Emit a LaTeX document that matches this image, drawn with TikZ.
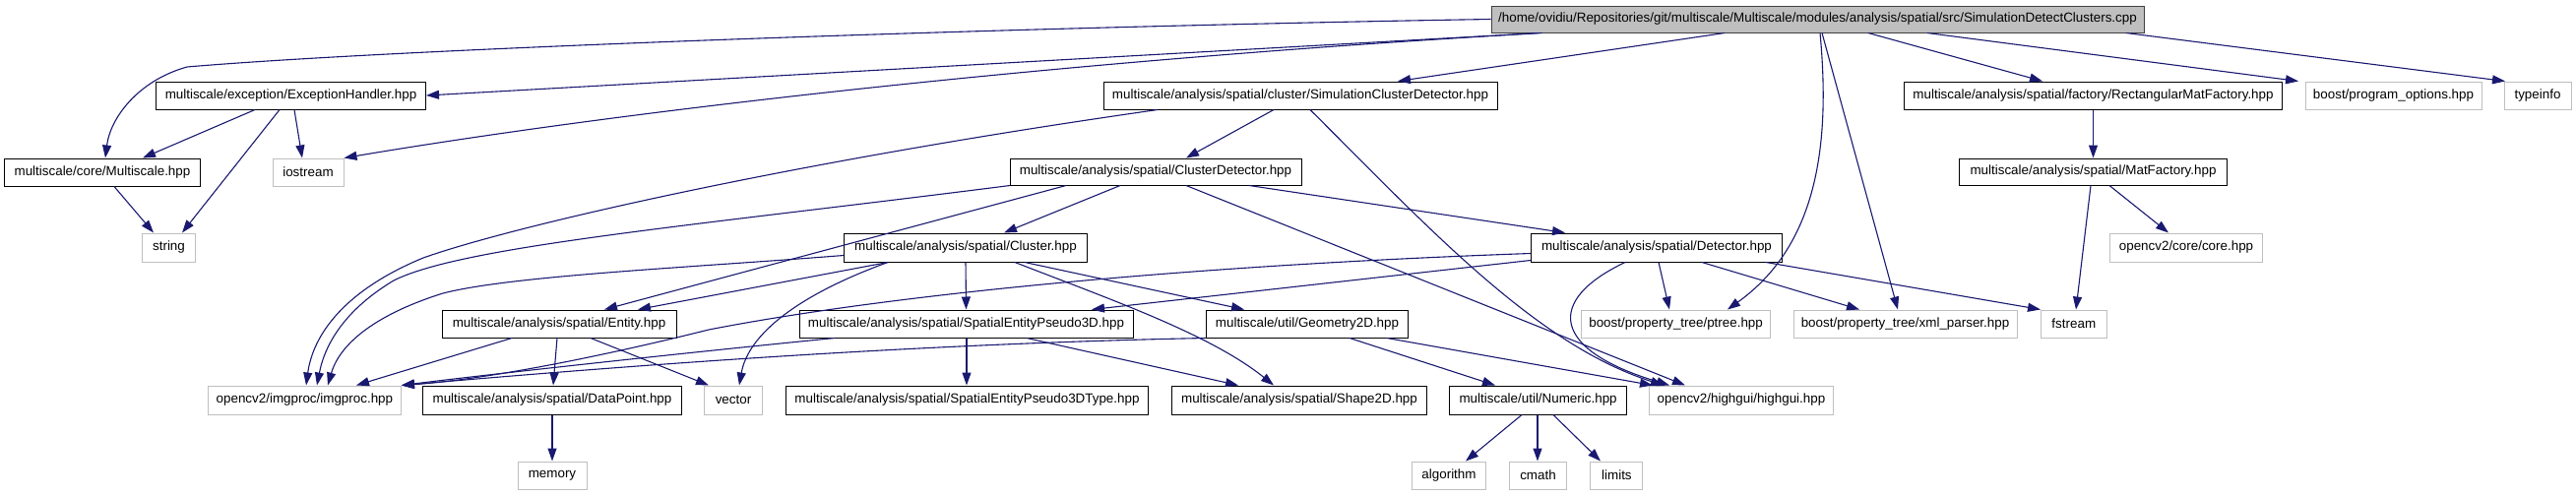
\documentclass[tikz,border=0pt]{standalone}
\usepackage{fontspec}
\setmainfont{Liberation Sans}
\usetikzlibrary{arrows.meta,calc}
\definecolor{edgec}{HTML}{191970}
\definecolor{extc}{HTML}{BFBFBF}
\definecolor{rootfill}{HTML}{BFBFBF}
\definecolor{rootdraw}{HTML}{404040}
\tikzset{
  box/.style={rectangle, inner sep=0pt, line width=1pt, fill=white,
    font=\fontsize{13.4}{15}\selectfont, text=black},
  doc/.style={box, draw=black},
  ext/.style={box, draw=extc},
  rootbox/.style={box, draw=rootdraw, fill=rootfill},
  e/.style={draw=edgec, line width=1.1pt, -{Triangle[length=13pt,width=9pt]}}
}
\begin{document}
\begin{tikzpicture}[x=1pt,y=-1pt]
\useasboundingbox (0,0) rectangle (2617,504);
% nodes
\node[rootbox, minimum width=663pt, minimum height=27pt] (root) at (1846.5,19.5) {/home/ovidiu/Repositories/git/multiscale/Multiscale/modules/analysis/spatial/src/SimulationDetectClusters.cpp};
\node[doc, minimum width=274pt, minimum height=28pt] (EH) at (295.5,97) {multiscale/exception/ExceptionHandler.hpp};
\node[doc, minimum width=199pt, minimum height=28pt] (MS) at (104,175) {multiscale/core/Multiscale.hpp};
\node[ext, minimum width=72pt, minimum height=28pt] (ios) at (313,175) {iostream};
\node[ext, minimum width=54pt, minimum height=29pt] (str) at (171.5,251.5) {string};
\node[doc, minimum width=400pt, minimum height=28pt] (SCD) at (1321,97) {multiscale/analysis/spatial/cluster/SimulationClusterDetector.hpp};
\node[doc, minimum width=296pt, minimum height=27pt] (CD) at (1174,174.5) {multiscale/analysis/spatial/ClusterDetector.hpp};
\node[doc, minimum width=384pt, minimum height=28pt] (RMF) at (2126.5,97) {multiscale/analysis/spatial/factory/RectangularMatFactory.hpp};
\node[ext, minimum width=179pt, minimum height=28pt] (po) at (2431.5,97) {boost/program\_options.hpp};
\node[ext, minimum width=68pt, minimum height=28pt] (ti) at (2578,97) {typeinfo};
\node[doc, minimum width=272pt, minimum height=27pt] (MF) at (2126.5,174.5) {multiscale/analysis/spatial/MatFactory.hpp};
\node[ext, minimum width=155pt, minimum height=29pt] (core) at (2221,251.5) {opencv2/core/core.hpp};
\node[doc, minimum width=247pt, minimum height=29pt] (Cl) at (981,251.5) {multiscale/analysis/spatial/Cluster.hpp};
\node[doc, minimum width=255pt, minimum height=29pt] (Det) at (1683,251.5) {multiscale/analysis/spatial/Detector.hpp};
\node[doc, minimum width=238pt, minimum height=28pt] (Ent) at (568,329) {multiscale/analysis/spatial/Entity.hpp};
\node[doc, minimum width=339pt, minimum height=28pt] (SEP) at (981.5,329) {multiscale/analysis/spatial/SpatialEntityPseudo3D.hpp};
\node[doc, minimum width=205pt, minimum height=28pt] (Geo) at (1328,329) {multiscale/util/Geometry2D.hpp};
\node[ext, minimum width=192pt, minimum height=28pt] (ptree) at (1702.6,329) {boost/property\_tree/ptree.hpp};
\node[ext, minimum width=227pt, minimum height=28pt] (xml) at (1935.5,329) {boost/property\_tree/xml\_parser.hpp};
\node[ext, minimum width=67pt, minimum height=28pt] (fs) at (2106.8,329) {fstream};
\node[ext, minimum width=196pt, minimum height=29pt] (img) at (309.4,406.5) {opencv2/imgproc/imgproc.hpp};
\node[doc, minimum width=263pt, minimum height=29pt] (DP) at (561,406.5) {multiscale/analysis/spatial/DataPoint.hpp};
\node[ext, minimum width=59pt, minimum height=29pt] (vec) at (745,406.5) {vector};
\node[doc, minimum width=368pt, minimum height=29pt] (SEPT) at (982.5,406.5) {multiscale/analysis/spatial/SpatialEntityPseudo3DType.hpp};
\node[doc, minimum width=259pt, minimum height=29pt] (Sh) at (1320,406.5) {multiscale/analysis/spatial/Shape2D.hpp};
\node[doc, minimum width=180pt, minimum height=29pt] (Num) at (1562.6,406.5) {multiscale/util/Numeric.hpp};
\node[ext, minimum width=187pt, minimum height=29pt] (hg) at (1769,406.5) {opencv2/highgui/highgui.hpp};
\node[ext, minimum width=70pt, minimum height=28pt] (mem) at (561,483) {memory};
\node[ext, minimum width=75pt, minimum height=28pt] (alg) at (1472,483) {algorithm};
\node[ext, minimum width=58pt, minimum height=28pt] (cm) at (1562.5,483) {cmath};
\node[ext, minimum width=53pt, minimum height=28pt] (lim) at (1642.4,483) {limits};
% edges from root
\draw[e] (root.west) .. controls (1000,28) and (400,50) .. (190,68) .. controls (140,82) and (112,120) .. (107,0 |- MS.north);
\draw[e] ($(root.south west)+(50,0)$) -- (EH.east);
\draw[e] ($(root.south west)+(52,0)$) .. controls (1100,60) and (650,110) .. (ios.north east);
\draw[e] (1752,0 |- root.south) -- (1420,0 |- SCD.north);
\draw[e] (1898,0 |- root.south) -- (2075,0 |- RMF.north);
\draw[e] (1958,0 |- root.south) -- (2335,0 |- po.north);
\draw[e] (2160,0 |- root.south) -- (2545,0 |- ti.north);
\draw[e] (1849,0 |- root.south) .. controls (1860,150) and (1845,250) .. (1755,0 |- ptree.north);
\draw[e] (1851,0 |- root.south) -- (1928,0 |- xml.north);
% ExceptionHandler, Multiscale
\draw[e] (259,0 |- EH.south) -- (145,0 |- MS.north);
\draw[e] (299,0 |- EH.south) -- (307,0 |- ios.north);
\draw[e] (284,0 |- EH.south) -- (185,0 |- str.north);
\draw[e] (116,0 |- MS.south) -- (156,0 |- str.north);
% SimulationClusterDetector
\draw[e] (1294,0 |- SCD.south) -- (1205,0 |- CD.north);
\draw[e] (1176,0 |- SCD.south) .. controls (800,165) and (520,230) .. (430,262) .. controls (350,295) and (318,340) .. (311,0 |- img.north);
\draw[e] (1331,0 |- SCD.south) .. controls (1450,230) and (1560,350) .. (1690,0 |- hg.north);
% ClusterDetector
\draw[e] (1138,0 |- CD.south) -- (1020,0 |- Cl.north);
\draw[e] (1269,0 |- CD.south) -- (1590,0 |- Det.north);
\draw[e] (1083,0 |- CD.south) -- (614,0 |- Ent.north);
\draw[e] (1026,0 |- CD.south) .. controls (700,230) and (470,250) .. (400,285) .. controls (350,315) and (330,350) .. (322,0 |- img.north);
\draw[e] (1205,0 |- CD.south) -- (1712,0 |- hg.north);
% Cluster
\draw[e] ($(Cl.west)+(0,8)$) .. controls (700,272) and (520,280) .. (450,298) .. controls (380,320) and (345,350) .. (333,0 |- img.north);
\draw[e] (Cl.south) -- (SEP.north);
\draw[e] (1041,0 |- Cl.south) -- (1264,0 |- Geo.north);
\draw[e] (1031,0 |- Cl.south) .. controls (1130,305) and (1230,340) .. (1294,0 |- Sh.north);
\draw[e] (902,0 |- Cl.south) .. controls (810,300) and (760,340) .. (751,0 |- vec.north);
\draw[e] (902,0 |- Cl.south) -- (648,0 |- Ent.north);
% Detector
\draw[e] ($(Det.west)+(0,13)$) -- (1109,0 |- SEP.north);
\draw[e] ($(Det.west)+(0,6)$) .. controls (1200,270) and (900,300) .. (720,335) .. controls (620,360) and (500,385) .. (img.north east);
\draw[e] (1685,0 |- Det.south) -- (1696,0 |- ptree.north);
\draw[e] (1729,0 |- Det.south) -- (1889,0 |- xml.north);
\draw[e] (1794,0 |- Det.south) -- (2073,0 |- fs.north);
\draw[e] (1651,0 |- Det.south) .. controls (1570,305) and (1575,355) .. (1696,0 |- hg.north);
% Entity, DataPoint
\draw[e] (566,0 |- Ent.south) -- (562,0 |- DP.north);
\draw[e] (520,0 |- Ent.south) -- (362,0 |- img.north);
\draw[e] (600,0 |- Ent.south) -- (720,0 |- vec.north);
\draw[e] (DP.south) -- (mem.north);
% SpatialEntityPseudo3D
\draw[e] (982,0 |- SEP.south) -- (982,0 |- SEPT.north);
\draw[e] (1043,0 |- SEP.south) -- (1258,0 |- Sh.north);
\draw[e] (848,0 |- SEP.south) .. controls (700,358) and (500,380) .. (img.north east);
% Geometry2D
\draw[e] (Geo.south west) .. controls (900,350) and (600,375) .. (img.north east);
\draw[e] (1371,0 |- Geo.south) -- (1519,0 |- Num.north);
\draw[e] (1409,0 |- Geo.south) -- (1679,0 |- hg.north);
% Numeric
\draw[e] (1546,0 |- Num.south) -- (1489,0 |- alg.north);
\draw[e] (1562,0 |- Num.south) -- (1562,0 |- cm.north);
\draw[e] (1578,0 |- Num.south) -- (1626,0 |- lim.north);
% factories
\draw[e] (RMF.south) -- (MF.north);
\draw[e] (2124,0 |- MF.south) -- (2109,0 |- fs.north);
\draw[e] (2143,0 |- MF.south) -- (2203,0 |- core.north);
\end{tikzpicture}
\end{document}
